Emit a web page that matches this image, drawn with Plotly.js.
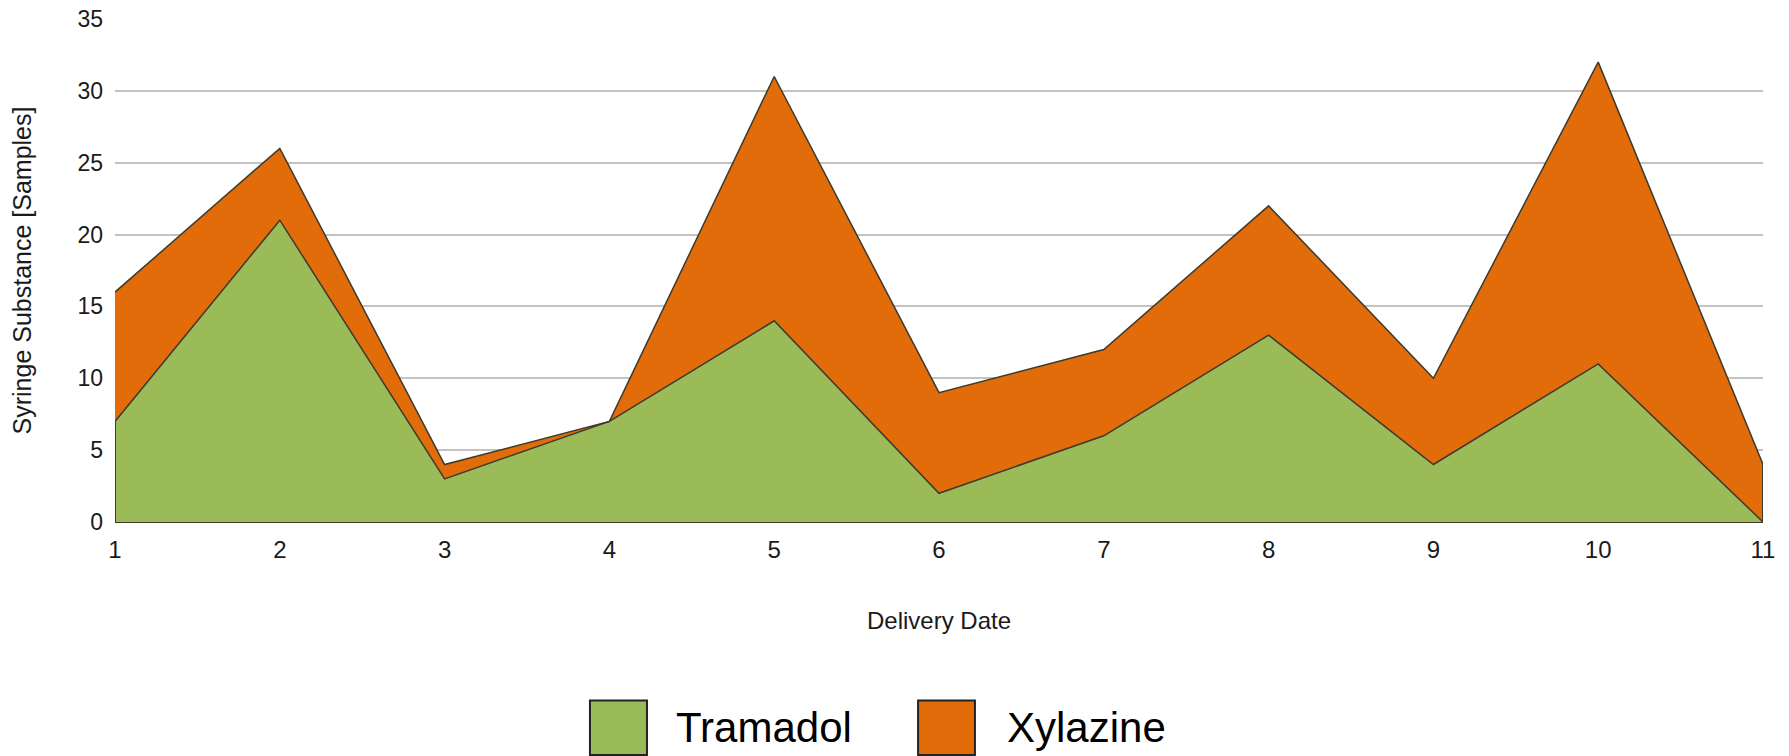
<!DOCTYPE html>
<html>
<head>
<meta charset="utf-8">
<script src="https://cdn.plot.ly/plotly-3.0.1.min.js"></script>
<style>
  html, body { margin: 0; padding: 0; background: #ffffff; }
  #chart { width: 1789px; height: 756px; }
</style>
</head>
<body>
<div id="chart"></div>
<script>
// ---- Data ----
const deliveryDates = [1, 2, 3, 4, 5, 6, 7, 8, 9, 10, 11];
const tramadol = [7, 21, 3, 7, 14, 2, 6, 13, 4, 11, 0];
const xylazine = [9, 5, 1, 0, 17, 7, 6, 9, 6, 21, 4];
const seriesNames = ['Tramadol', 'Xylazine'];
const yTickValues = [0, 5, 10, 15, 20, 25, 30, 35];

// ---- Style ----
const FONT = '"Liberation Sans", Arial, Helvetica, sans-serif';
const GREEN = '#9BBB59';
const ORANGE = '#E36C0A';
const EDGE = '#3b3a2c';
const TEXT = '#1a1a1a';

const lastIdx = deliveryDates.length - 1;
const totals = tramadol.map((v, i) => v + xylazine[i]);

const traces = [
  {
    x: deliveryDates, y: tramadol, name: seriesNames[0],
    type: 'scatter', mode: 'lines', stackgroup: 'one',
    fillcolor: GREEN, line: { color: EDGE, width: 1.5 },
    hoverinfo: 'x+y+name'
  },
  {
    x: deliveryDates, y: xylazine, name: seriesNames[1],
    type: 'scatter', mode: 'lines', stackgroup: 'one',
    fillcolor: ORANGE, line: { color: EDGE, width: 1.5 },
    hoverinfo: 'x+y+name'
  },
  // polygon side edges derived from the data
  {
    x: [deliveryDates[0], deliveryDates[0]], y: [0, tramadol[0]],
    type: 'scatter', mode: 'lines', line: { color: EDGE, width: 2 },
    showlegend: false, hoverinfo: 'skip'
  },
  {
    x: [deliveryDates[lastIdx], deliveryDates[lastIdx]], y: [0, totals[lastIdx]],
    type: 'scatter', mode: 'lines', line: { color: EDGE, width: 2 },
    showlegend: false, hoverinfo: 'skip'
  }
];

// legend drawn as boxes + text
const legendItems = [
  { name: seriesNames[0], color: GREEN, x0: 0.2882, x1: 0.3228, tx: 0.3390 },
  { name: seriesNames[1], color: ORANGE, x0: 0.4873, x1: 0.5218, tx: 0.5400 }
];
const shapes = legendItems.map(it => ({
  type: 'rect', xref: 'paper', yref: 'paper',
  x0: it.x0, x1: it.x1, y0: -0.463, y1: -0.355,
  fillcolor: it.color, line: { color: '#222222', width: 2 }
}));
const annotations = legendItems.map(it => ({
  xref: 'paper', yref: 'paper', x: it.tx, y: -0.409,
  xanchor: 'left', yanchor: 'middle', showarrow: false,
  text: it.name, font: { family: FONT, size: 42, color: '#000000' }
}));

const layout = {
  width: 1789, height: 756,
  margin: { l: 115, r: 26, t: 19, b: 234, pad: 0 },
  paper_bgcolor: '#ffffff', plot_bgcolor: '#ffffff',
  showlegend: false,
  font: { family: FONT, size: 23, color: TEXT },
  xaxis: {
    range: [deliveryDates[0], deliveryDates[lastIdx]],
    tickvals: deliveryDates, ticktext: deliveryDates.map(String),
    showgrid: false, zeroline: false, showline: false,
    ticks: '', ticklabelstandoff: 11,
    tickfont: { family: FONT, size: 24, color: TEXT },
    title: { text: 'Delivery Date', standoff: 50, font: { family: FONT, size: 24, color: TEXT } },
    automargin: false, fixedrange: true
  },
  yaxis: {
    range: [0, 35],
    tickvals: yTickValues, ticktext: yTickValues.map(String),
    showgrid: true, gridcolor: '#c2c2c2', gridwidth: 2,
    zeroline: true, zerolinecolor: EDGE, zerolinewidth: 2,
    showline: false, ticks: '', ticklabelstandoff: 11,
    tickfont: { family: FONT, size: 23, color: TEXT },
    title: { text: 'Syringe Substance [Samples]', standoff: 38, font: { family: FONT, size: 25, color: TEXT } },
    automargin: false, fixedrange: true
  },
  shapes: shapes,
  annotations: annotations
};

Plotly.newPlot('chart', traces, layout, { displayModeBar: false, staticPlot: true });
</script>
</body>
</html>
